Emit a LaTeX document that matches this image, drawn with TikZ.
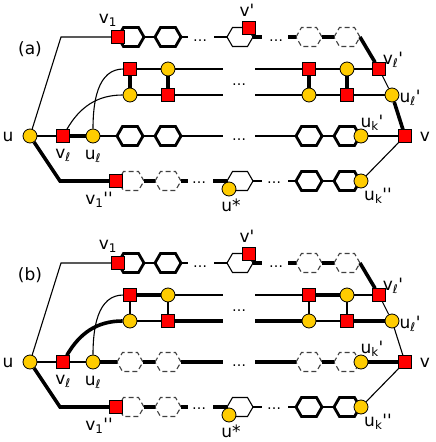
\documentclass[tikz,border=0pt]{standalone}
\usepackage{fontspec}
\newfontfamily\lblfont{DejaVu Sans}
\usetikzlibrary{positioning}

\definecolor{sqred}{RGB}{255,0,0}
\definecolor{ciyel}{RGB}{255,204,0}

\tikzset{
	thinln/.style={line width=1.1pt},
	thickln/.style={line width=3.6pt},
	sq/.style={draw, fill=sqred, line width=0.8pt, minimum size=12.5pt, inner sep=0pt},
	ci/.style={circle, draw, fill=ciyel, line width=0.8pt, minimum size=14pt, inner sep=0pt},
	hexbox/.style={minimum width=26pt, minimum height=19pt, inner sep=0pt, outer sep=0pt,
		append after command={\pgfextra{\filldraw[fill=white, #1]
			(\tikzlastnode.west) -- ([xshift=5.5pt]\tikzlastnode.north west)
			-- ([xshift=-5.5pt]\tikzlastnode.north east) -- (\tikzlastnode.east)
			-- ([xshift=-5.5pt]\tikzlastnode.south east) -- ([xshift=5.5pt]\tikzlastnode.south west) -- cycle;}}},
	hexon/.style={hexbox={line width=2.8pt}},
	hexthin/.style={hexbox={line width=1.1pt}},
	hexoff/.style={hexbox={draw=black!75, line width=1.1pt, dash pattern=on 5pt off 3pt}},
	lbl/.style={font=\lblfont\fontsize{17}{20}\selectfont, inner sep=0pt},
	dots/.style={font=\lblfont\fontsize{14}{16}\selectfont, inner sep=0pt},
}

\begin{document}
\begin{tikzpicture}[x=1pt, y=-1pt]
	\useasboundingbox (0, 0) rectangle (436, 442);

	% (a)
	\coordinate (a-b1) at (61, 37);
	\coordinate (a-b2) at (60, 181);
	\coordinate (a-r1e1) at (188, 37);
	\coordinate (a-r1s2) at (214, 37);
	\coordinate (a-r1e2) at (262, 37);
	\coordinate (a-r1s3) at (288, 37);
	\coordinate (a-r2e) at (223, 69);
	\coordinate (a-r2s) at (255, 69);
	\coordinate (a-r3e) at (223, 95);
	\coordinate (a-r3s) at (255, 95);
	\coordinate (a-r4e) at (223, 136);
	\coordinate (a-r4s) at (255, 136);
	\coordinate (a-r5e1) at (188, 181);
	\coordinate (a-r5s2) at (213, 181);
	\coordinate (a-r5e2) at (262, 181);
	\coordinate (a-r5s3) at (288, 181);

	\node[hexon] (a-h1a) at (131, 37) {};
	\node[hexon] (a-h1b) at (168, 37) {};
	\node[hexthin] (a-h1c) at (240, 37) {};
	\node[hexoff] (a-h1d) at (309, 37) {};
	\node[hexoff] (a-h1e) at (347, 37) {};
	\node[hexon] (a-h4a) at (130, 136) {};
	\node[hexon] (a-h4b) at (168, 136) {};
	\node[hexon] (a-h4c) at (309, 136) {};
	\node[hexon] (a-h4d) at (347, 136) {};
	\node[hexoff] (a-h5a) at (131, 181) {};
	\node[hexoff] (a-h5b) at (168, 181) {};
	\node[hexthin] (a-h5c) at (240, 181) {};
	\node[hexon] (a-h5d) at (309, 181) {};
	\node[hexon] (a-h5e) at (347, 181) {};

	\node[ci] (a-u) at (30, 136) {};
	\node[sq] (a-v1) at (118, 37) {};
	\node[sq] (a-vp) at (249, 28) {};
	\node[sq] (a-s2a) at (130, 69) {};
	\node[ci] (a-c2b) at (168, 69) {};
	\node[sq] (a-s2c) at (309, 69) {};
	\node[ci] (a-c2d) at (347, 69) {};
	\node[sq] (a-vlp) at (379, 69) {};
	\node[ci] (a-c3a) at (130, 95) {};
	\node[sq] (a-s3b) at (168, 95) {};
	\node[ci] (a-c3c) at (309, 95) {};
	\node[sq] (a-s3d) at (347, 95) {};
	\node[ci] (a-ulp) at (392, 95) {};
	\node[sq] (a-vl) at (63, 136) {};
	\node[ci] (a-ul) at (93, 136) {};
	\node[ci] (a-ukp) at (361, 136) {};
	\node[sq] (a-v) at (405, 136) {};
	\node[sq] (a-v1pp) at (116, 181) {};
	\node[ci] (a-us) at (229, 189) {};
	\node[ci] (a-ukpp) at (361, 181) {};

	\draw[thinln] (a-u) -- (a-b1) -- (a-v1);
	\draw[thinln] (a-h1a) -- (a-h1b) -- (a-r1e1);
	\draw[thinln] (a-r1s2) -- (a-h1c);
	\draw[thickln] (a-h1c) -- (a-r1e2);
	\draw[thickln] (a-r1s3) -- (a-h1d) -- (a-h1e);
	\draw[thickln] (a-h1e.east) -- (a-vlp);

	\draw[thinln] (a-s2a) -- (a-c2b) -- (a-r2e);
	\draw[thinln] (a-r2s) -- (a-s2c) -- (a-c2d) -- (a-vlp);
	\draw[thinln] (a-c3a) -- (a-s3b) -- (a-r3e);
	\draw[thinln] (a-r3s) -- (a-c3c) -- (a-s3d) -- (a-ulp);
	\draw[thickln] (a-s2a) -- (a-c3a);
	\draw[thickln] (a-c2b) -- (a-s3b);
	\draw[thickln] (a-s2c) -- (a-c3c);
	\draw[thickln] (a-c2d) -- (a-s3d);
	\draw[thinln] (a-vl) to[out=60, in=180] (a-c3a);
	\draw[thinln] (a-ul) to[out=90, in=180] (a-s2a);

	\draw[thinln] (a-u) -- (a-vl);
	\draw[thickln] (a-vl) -- (a-ul);
	\draw[thinln] (a-ul) -- (a-h4a) -- (a-h4b) -- (a-r4e);
	\draw[thinln] (a-r4s) -- (a-h4c) -- (a-h4d);

	\draw[thickln] (a-u) -- (a-b2) -- (a-v1pp);
	\draw[thickln] (a-h5a) -- (a-h5b) -- (a-r5e1);
	\draw[thickln] (a-r5s2) -- (a-h5c);
	\draw[thinln] (a-h5c) -- (a-r5e2);
	\draw[thinln] (a-r5s3) -- (a-h5d) -- (a-h5e);

	\draw[thinln] (a-vlp) -- (a-ulp);
	\draw[thickln] (a-ulp) -- (a-v);
	\draw[thinln] (a-ukp) -- (a-v);
	\draw[thinln] (a-v) -- (a-ukpp);

	\node[dots] (a-d1) at (200, 41) {…};
	\node[dots] (a-d2) at (276, 41) {…};
	\node[dots] (a-d3) at (239, 85) {…};
	\node[dots] (a-d4) at (239, 140) {…};
	\node[dots] (a-d5) at (199, 183) {…};
	\node[dots] (a-d6) at (274, 183) {…};

	% Labels
	\node[lbl] (a-la) at (30, 49) {(a)};
	\node[lbl] (a-lu) at (8, 137) {u};
	\node[lbl] (a-lv1) at (108, 20) {v\textsubscript{1}};
	\node[lbl] (a-lvp) at (247, 10) {v'};
	\node[lbl] (a-lvlp) at (393, 60) {v\textsubscript{ℓ}'};
	\node[lbl] (a-lulp) at (410, 98) {u\textsubscript{ℓ}'};
	\node[lbl] (a-lukp) at (372, 123) {u\textsubscript{k}'};
	\node[lbl] (a-lv) at (425, 137) {v};
	\node[lbl] (a-lukpp) at (378, 196) {u\textsubscript{k}''};
	\node[lbl] (a-lus) at (231, 205) {u*};
	\node[lbl] (a-lv1pp) at (99, 200) {v\textsubscript{1}''};
	\node[lbl] (a-lvl) at (63, 155) {v\textsubscript{ℓ}};
	\node[lbl] (a-lul) at (93, 156) {u\textsubscript{ℓ}};

	% (b)
	\begin{scope}[shift={(0, 226)}]
	\coordinate (b-b1) at (61, 37);
	\coordinate (b-b2) at (60, 181);
	\coordinate (b-r1e1) at (188, 37);
	\coordinate (b-r1s2) at (214, 37);
	\coordinate (b-r1e2) at (262, 37);
	\coordinate (b-r1s3) at (288, 37);
	\coordinate (b-r2e) at (223, 69);
	\coordinate (b-r2s) at (255, 69);
	\coordinate (b-r3e) at (223, 95);
	\coordinate (b-r3s) at (255, 95);
	\coordinate (b-r4e) at (223, 136);
	\coordinate (b-r4s) at (255, 136);
	\coordinate (b-r5e1) at (188, 181);
	\coordinate (b-r5s2) at (213, 181);
	\coordinate (b-r5e2) at (262, 181);
	\coordinate (b-r5s3) at (288, 181);

	\node[hexon] (b-h1a) at (131, 37) {};
	\node[hexon] (b-h1b) at (168, 37) {};
	\node[hexthin] (b-h1c) at (240, 37) {};
	\node[hexoff] (b-h1d) at (309, 37) {};
	\node[hexoff] (b-h1e) at (347, 37) {};
	\node[hexoff] (b-h4a) at (130, 136) {};
	\node[hexoff] (b-h4b) at (168, 136) {};
	\node[hexoff] (b-h4c) at (309, 136) {};
	\node[hexoff] (b-h4d) at (347, 136) {};
	\node[hexoff] (b-h5a) at (131, 181) {};
	\node[hexoff] (b-h5b) at (168, 181) {};
	\node[hexthin] (b-h5c) at (240, 181) {};
	\node[hexon] (b-h5d) at (309, 181) {};
	\node[hexon] (b-h5e) at (347, 181) {};

	\node[ci] (b-u) at (30, 136) {};
	\node[sq] (b-v1) at (118, 37) {};
	\node[sq] (b-vp) at (249, 28) {};
	\node[sq] (b-s2a) at (130, 69) {};
	\node[ci] (b-c2b) at (168, 69) {};
	\node[sq] (b-s2c) at (309, 69) {};
	\node[ci] (b-c2d) at (347, 69) {};
	\node[sq] (b-vlp) at (379, 69) {};
	\node[ci] (b-c3a) at (130, 95) {};
	\node[sq] (b-s3b) at (168, 95) {};
	\node[ci] (b-c3c) at (309, 95) {};
	\node[sq] (b-s3d) at (347, 95) {};
	\node[ci] (b-ulp) at (392, 95) {};
	\node[sq] (b-vl) at (63, 136) {};
	\node[ci] (b-ul) at (93, 136) {};
	\node[ci] (b-ukp) at (361, 136) {};
	\node[sq] (b-v) at (405, 136) {};
	\node[sq] (b-v1pp) at (116, 181) {};
	\node[ci] (b-us) at (229, 189) {};
	\node[ci] (b-ukpp) at (361, 181) {};

	\draw[thinln] (b-u) -- (b-b1) -- (b-v1);
	\draw[thinln] (b-h1a) -- (b-h1b) -- (b-r1e1);
	\draw[thinln] (b-r1s2) -- (b-h1c);
	\draw[thickln] (b-h1c) -- (b-r1e2);
	\draw[thickln] (b-r1s3) -- (b-h1d) -- (b-h1e);
	\draw[thickln] (b-h1e.east) -- (b-vlp);

	\draw[thickln] (b-s2a) -- (b-c2b);
	\draw[thinln] (b-c2b) -- (b-r2e);
	\draw[thinln] (b-r2s) -- (b-s2c);
	\draw[thickln] (b-s2c) -- (b-c2d);
	\draw[thinln] (b-c2d) -- (b-vlp);
	\draw[thinln] (b-c3a) -- (b-s3b);
	\draw[thickln] (b-s3b) -- (b-r3e);
	\draw[thickln] (b-r3s) -- (b-c3c);
	\draw[thinln] (b-c3c) -- (b-s3d);
	\draw[thickln] (b-s3d) -- (b-ulp);
	\draw[thinln] (b-s2a) -- (b-c3a);
	\draw[thinln] (b-c2b) -- (b-s3b);
	\draw[thinln] (b-s2c) -- (b-c3c);
	\draw[thinln] (b-c2d) -- (b-s3d);
	\draw[thickln] (b-vl) to[out=60, in=180] (b-c3a);
	\draw[thinln] (b-ul) to[out=90, in=180] (b-s2a);

	\draw[thinln] (b-u) -- (b-vl) -- (b-ul);
	\draw[thickln] (b-ul) -- (b-h4a) -- (b-h4b) -- (b-r4e);
	\draw[thickln] (b-r4s) -- (b-h4c) -- (b-h4d);

	\draw[thickln] (b-u) -- (b-b2) -- (b-v1pp);
	\draw[thickln] (b-h5a) -- (b-h5b) -- (b-r5e1);
	\draw[thickln] (b-r5s2) -- (b-h5c);
	\draw[thinln] (b-h5c) -- (b-r5e2);
	\draw[thinln] (b-r5s3) -- (b-h5d) -- (b-h5e);

	\draw[thinln] (b-vlp) -- (b-ulp);
	\draw[thinln] (b-ulp) -- (b-v);
	\draw[thickln] (b-ukp) -- (b-v);
	\draw[thinln] (b-v) -- (b-ukpp);

	\node[dots] (b-d1) at (200, 41) {…};
	\node[dots] (b-d2) at (276, 41) {…};
	\node[dots] (b-d3) at (239, 85) {…};
	\node[dots] (b-d4) at (239, 140) {…};
	\node[dots] (b-d5) at (199, 183) {…};
	\node[dots] (b-d6) at (274, 183) {…};

	% Labels
	\node[lbl] (b-la) at (30, 49) {(b)};
	\node[lbl] (b-lu) at (8, 137) {u};
	\node[lbl] (b-lv1) at (108, 20) {v\textsubscript{1}};
	\node[lbl] (b-lvp) at (247, 10) {v'};
	\node[lbl] (b-lvlp) at (393, 60) {v\textsubscript{ℓ}'};
	\node[lbl] (b-lulp) at (410, 98) {u\textsubscript{ℓ}'};
	\node[lbl] (b-lukp) at (372, 123) {u\textsubscript{k}'};
	\node[lbl] (b-lv) at (425, 137) {v};
	\node[lbl] (b-lukpp) at (378, 196) {u\textsubscript{k}''};
	\node[lbl] (b-lus) at (231, 205) {u*};
	\node[lbl] (b-lv1pp) at (99, 200) {v\textsubscript{1}''};
	\node[lbl] (b-lvl) at (63, 155) {v\textsubscript{ℓ}};
	\node[lbl] (b-lul) at (93, 156) {u\textsubscript{ℓ}};
	\end{scope}
\end{tikzpicture}
\end{document}
